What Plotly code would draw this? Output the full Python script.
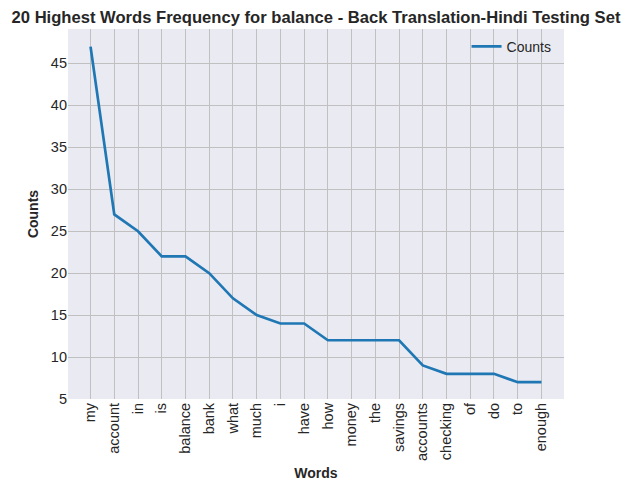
import plotly.graph_objects as go

# word frequencies
words = ["my", "account", "in", "is", "balance", "bank", "what", "much", "i", "have",
         "how", "money", "the", "savings", "accounts", "checking", "of", "do", "to", "enough"]
counts = [47, 27, 25, 22, 22, 20, 17, 15, 14, 14,
          12, 12, 12, 12, 9, 8, 8, 8, 7, 7]
y_ticks = [5, 10, 15, 20, 25, 30, 35, 40, 45]

txt = "#262626"
font_family = "Liberation Sans, Arial, sans-serif"

fig = go.Figure()
fig.add_trace(go.Scatter(
    x=list(range(len(words))),
    y=counts,
    mode="lines",
    name="Counts",
    line=dict(color="#1f77b4", width=2.7),
))

# page body has an 8px margin, so the plot area is shifted by that
fig.update_layout(
    width=631, height=489,
    margin=dict(l=60, r=75, t=21, b=98),
    paper_bgcolor="white",
    plot_bgcolor="#EAEAF2",
    font=dict(family=font_family, size=14, color=txt),
    title=dict(
        text="<b>20 Highest Words Frequency for balance - Back Translation-Hindi Testing Set</b>",
        x=308 / 631, xanchor="center", y=1 - 9 / 489, yanchor="middle",
        font=dict(size=16.6, color=txt),
    ),
    showlegend=True,
    legend=dict(
        x=0.985, y=0.995, xanchor="right", yanchor="top",
        bgcolor="rgba(0,0,0,0)", font=dict(size=14, color=txt),
    ),
    xaxis=dict(
        tickmode="array",
        tickvals=list(range(len(words))),
        ticktext=words,
        tickangle=-90,
        range=[-0.95, len(words) - 1 + 0.95],
        showgrid=True, gridcolor="#c0c0c0", gridwidth=1,
        zeroline=False, showline=False, ticks="",
        tickfont=dict(size=14.5),
        title=dict(text="<b>Words</b>", font=dict(size=14), standoff=8),
    ),
    yaxis=dict(
        tickmode="array",
        tickvals=y_ticks,
        range=[5, 49.1],
        showgrid=True, gridcolor="#c0c0c0", gridwidth=1,
        zeroline=False, showline=False, ticks="",
        tickfont=dict(size=14.5),
        title=dict(text="<b>Counts</b>", font=dict(size=14), standoff=8),
    ),
)

fig.write_html("out.html")
